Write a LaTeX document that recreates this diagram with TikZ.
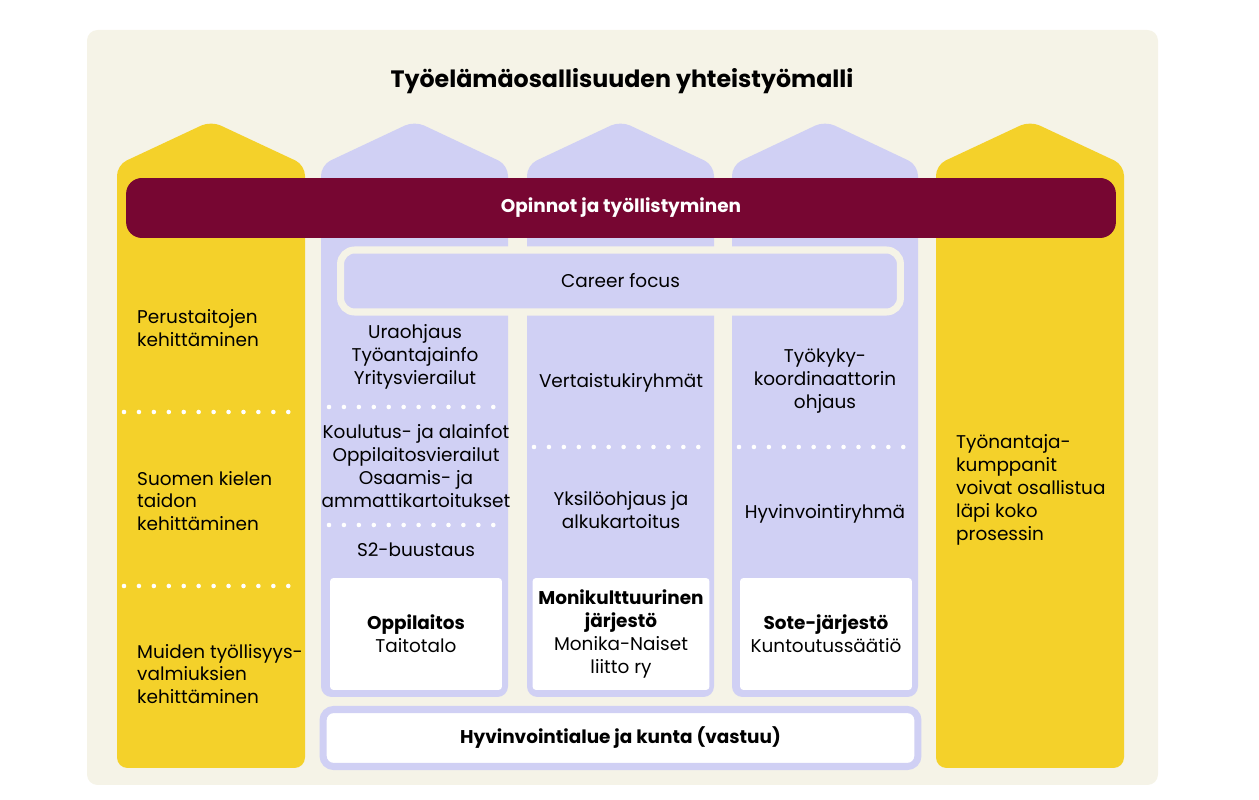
\documentclass[tikz,border=0pt]{standalone}
\usepackage{fontspec}
\setmainfont{Poppins}
\usetikzlibrary{positioning}
\definecolor{cream}{HTML}{F5F3E7}
\definecolor{sun}{HTML}{F4D12A}
\definecolor{lav}{HTML}{D0D0F4}
\definecolor{wine}{HTML}{770632}
\tikzset{
  pillar/.style={rounded corners=6pt},
  txt/.style={align=center, font=\fontsize{10.5}{13}\selectfont},
  ltxt/.style={align=left, anchor=west, font=\fontsize{10.5}{13}\selectfont},
  dots/.style={white, line width=2.6pt, line cap=round, dash pattern=on 0pt off 8.5pt},
  whitebox/.style={fill=white, rounded corners=2pt, minimum width=3.44cm, minimum height=2.24cm, txt}
}
\begin{document}
\begin{tikzpicture}[x=0.02cm, y=-0.02cm]
  \useasboundingbox (0,0) rectangle (1259,800);
  \fill[cream, rounded corners=6pt] (87,30) rectangle (1158,785);
  \node[font=\fontsize{13.5}{16}\selectfont\bfseries] (title) at (622,81) {Työelämäosallisuuden yhteistyömalli};
  % pillars
  \foreach \a/\b/\bot/\col in {117/305/768/sun, 321/508/697/lav, 527/714/697/lav, 732/918/697/lav, 936/1124/768/sun}
    \fill[\col, pillar] (\a,\bot) -- (\a,165) -- ({(\a+\b)/2},121) -- (\b,165) -- (\b,\bot) -- cycle;
  % top bar
  \node[fill=wine, rounded corners=9pt, minimum width=19.8cm, minimum height=1.2cm, text=white,
        font=\fontsize{10.5}{13}\selectfont\bfseries] (bar) at (621,208) {Opinnot ja työllistyminen};
  \node[fill=lav, draw=cream, line width=4pt, rounded corners=8pt, minimum width=11.2cm,
        minimum height=1.24cm, txt] (career) at (620.5,281) {Career focus};
  % left column
  \node[ltxt] (perus) at (131,328) {Perustaitojen\\kehittäminen};
  \node[ltxt] (suomi) at (131,501) {Suomen kielen\\taidon\\kehittäminen};
  \node[ltxt] (muut) at (131,674) {Muiden työllisyys-\\valmiuksien\\kehittäminen};
  \draw[dots] (124,412) -- (300,412);
  \draw[dots] (124,586) -- (300,586);
  % column 1
  \node[txt] (ura) at (415,357) {Uraohjaus\\Työantajainfo\\Yritysvierailut};
  \node[txt] (koul) at (416,466) {Koulutus- ja alainfot\\Oppilaitosvierailut\\Osaamis- ja\\ammattikartoitukset};
  \node[txt] (s2) at (416,550) {S2-buustaus};
  \draw[dots] (329,407) -- (503,407);
  \draw[dots] (329,525) -- (503,525);
  \node[whitebox] (oppi) at (416,634) {\textbf{Oppilaitos}\\Taitotalo};
  % column 2
  \node[txt] (vert) at (621,383) {Vertaistukiryhmät};
  \node[txt] (yksi) at (621,510) {Yksilöohjaus ja\\alkukartoitus};
  \draw[dots] (534,447) -- (710,447);
  \node[whitebox] (moni) at (621,634) {\textbf{Monikulttuurinen}\\\textbf{järjestö}\\Monika-Naiset\\liitto ry};
  % column 3
  \node[txt] (tyo) at (825,381) {Työkyky-\\koordinaattorin\\ohjaus};
  \node[txt] (hyv) at (825,514) {Hyvinvointiryhmä};
  \draw[dots] (739,447) -- (914,447);
  \node[whitebox] (sote) at (826,634) {\textbf{Sote-järjestö}\\Kuntoutussäätiö};
  % right column
  \node[ltxt] (kump) at (950,490) {Työnantaja-\\kumppanit\\voivat osallistua\\läpi koko\\prosessin};
  % bottom
  \node[fill=white, draw=lav, line width=4pt, rounded corners=6pt, minimum width=11.9cm,
        minimum height=1.14cm, font=\fontsize{10.5}{13}\selectfont\bfseries] (alue) at (620.5,738) {Hyvinvointialue ja kunta (vastuu)};
\end{tikzpicture}
\end{document}
